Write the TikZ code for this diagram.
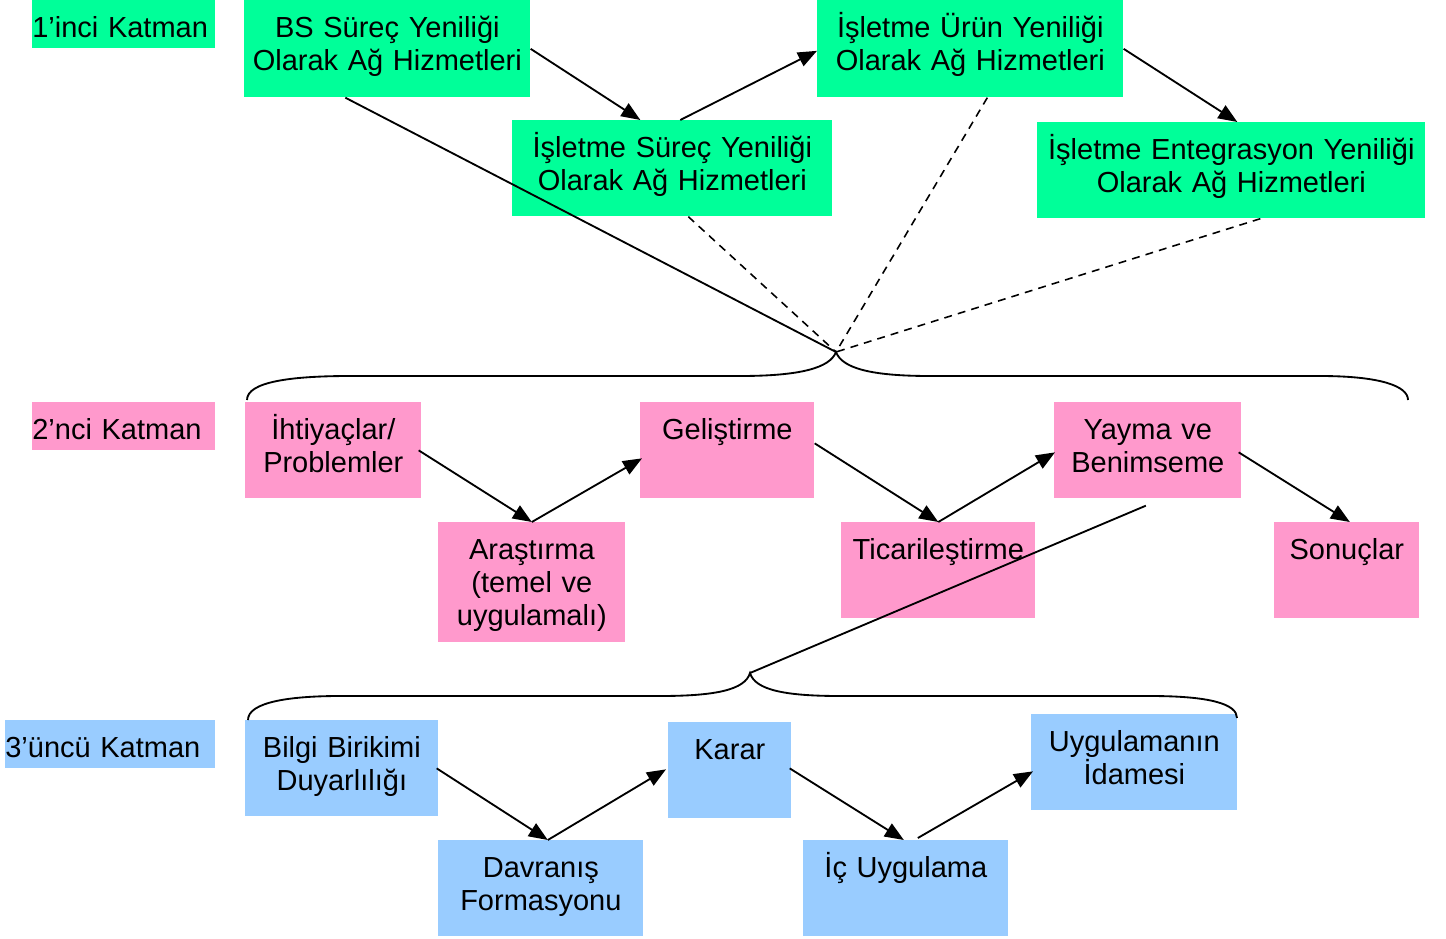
\documentclass[tikz,border=0pt]{standalone}
\usepackage{fontspec}
\setmainfont{Liberation Sans}
\usepackage{tikz}
\usetikzlibrary{arrows.meta,calc}
\definecolor{katgreen}{RGB}{0,255,153}
\definecolor{katpink}{RGB}{255,153,204}
\definecolor{katblue}{RGB}{153,204,255}
\tikzset{
  box/.style={
    anchor=north west, inner sep=0pt, align=center,
    text height=0.74cm, font=\fontsize{16.5pt}{18.7pt}\selectfont
  },
  gbox/.style={box, fill=katgreen},
  pbox/.style={box, fill=katpink},
  bbox/.style={box, fill=katblue},
  layer/.style={align=left, text depth=0.22cm},
  arr/.style={-{Triangle[length=3.8mm,width=3mm]}, line width=1.05pt},
  tipline/.style={line width=1.05pt},
  darr/.style={line width=0.9pt, dash pattern=on 4.5pt off 3.5pt},
  brc/.style={line width=1.05pt}
}

\begin{document}
\begin{tikzpicture}[x=0.02cm,y=-0.02cm]
  \useasboundingbox (0,0) rectangle (1446,939);

  % first layer
  \node[gbox, layer, text width=3.66cm] (k1) at (32,0) {1’inci Katman};
  \node[gbox, text width=5.72cm, text depth=1.2cm] (bs) at (244,0)
    {BS Süreç Yeniliği\\Olarak Ağ Hizmetleri};
  \node[gbox, text width=6.4cm, text depth=1.18cm] (surec) at (512,120)
    {İşletme Süreç Yeniliği\\Olarak Ağ Hizmetleri};
  \node[gbox, text width=6.12cm, text depth=1.2cm] (urun) at (817,0)
    {İşletme Ürün Yeniliği\\Olarak Ağ Hizmetleri};
  \node[gbox, text width=7.76cm, text depth=1.18cm] (enteg) at (1037,122)
    {İşletme Entegrasyon Yeniliği\\Olarak Ağ Hizmetleri};

  % second layer
  \node[pbox, layer, text width=3.66cm] (k2) at (32,402) {2’nci Katman};
  \node[pbox, text width=3.52cm, text depth=1.18cm] (ihti) at (245,402)
    {İhtiyaçlar/\\Problemler};
  \node[pbox, text width=3.74cm, text depth=1.66cm] (arast) at (438,522)
    {Araştırma\\(temel ve\\uygulamalı)};
  \node[pbox, text width=3.48cm, text depth=1.18cm] (gelis) at (640,402)
    {Geliştirme};
  \node[pbox, text width=3.88cm, text depth=1.18cm] (ticari) at (841,522)
    {Ticarileştirme};
  \node[pbox, text width=3.74cm, text depth=1.18cm] (yayma) at (1054,402)
    {Yayma ve\\Benimseme};
  \node[pbox, text width=2.9cm, text depth=1.18cm] (sonuc) at (1274,522)
    {Sonuçlar};

  % third layer
  \node[bbox, layer, text width=4.2cm] (k3) at (5,720) {3’üncü Katman};
  \node[bbox, text width=3.86cm, text depth=1.18cm] (bilgi) at (245,720)
    {Bilgi Birikimi\\Duyarlılığı};
  \node[bbox, text width=4.1cm, text depth=1.18cm] (davr) at (438,840)
    {Davranış\\Formasyonu};
  \node[bbox, text width=2.46cm, text depth=1.18cm] (karar) at (668,722)
    {Karar};
  \node[bbox, text width=4.1cm, text depth=1.18cm] (icuyg) at (803,840)
    {İç Uygulama};
  \node[bbox, text width=4.12cm, text depth=1.18cm] (idame) at (1031,714)
    {Uygulamanın\\İdamesi};

  % zigzag arrows
  \draw[arr] (bs.east) -- ($(surec.north)+(-32,0)$);
  \draw[arr] ($(surec.north)+(8,0)$) -- ($(urun.west)+(0,2)$);
  \draw[arr] (urun.east) -- ($(enteg.north)+(6,0)$);
  \draw[arr] ($(ihti.east)+(-3,0)$) -- (arast.north);
  \draw[arr] (arast.north) -- ($(gelis.west)+(2,8)$);
  \draw[arr] ($(gelis.east)+(0,-7)$) -- (ticari.north);
  \draw[arr] (ticari.north) -- ($(yayma.west)+(1,2)$);
  \draw[arr] ($(yayma.east)+(-3,2)$) -- ($(sonuc.north)+(3,0)$);
  \draw[arr] ($(bilgi.east)+(-2,0)$) -- ($(davr.north)+(7,0)$);
  \draw[arr] ($(davr.north)+(7,0)$) -- ($(karar.west)+(-2,-1)$);
  \draw[arr] ($(karar.east)+(-2,-2)$) -- ($(icuyg.north)+(-2,0)$);
  \draw[arr] ($(icuyg.north)+(12,-2)$) -- ($(idame.west)+(2,9)$);

  % braces
  \coordinate (tip1) at (836,352);
  \coordinate (tip2) at (750,673);
  \draw[brc] (247,400) .. controls (247,382) and (290,376) .. (350,376)
    -- (740,376) .. controls (800,376) and (830,368) .. (tip1)
    .. controls (842,368) and (870,376) .. (930,376)
    -- (1320,376) .. controls (1380,376) and (1408,386) .. (1408,400);
  \draw[brc] (248,720) .. controls (248,702) and (290,696) .. (340,696)
    -- (660,696) .. controls (715,696) and (745,690) .. (tip2)
    .. controls (755,690) and (785,696) .. (840,696)
    -- (1150,696) .. controls (1210,696) and (1237,704) .. (1237,718);

  % links to the braces
  \draw[tipline] ($(bs.south)+(-42,0)$) -- (tip1);
  \draw[darr] ($(surec.south)+(16,0)$) -- (tip1);
  \draw[darr] ($(urun.south)+(17,0)$) -- (tip1);
  \draw[darr] ($(enteg.south)+(29,0)$) -- (tip1);
  \draw[tipline] ($(yayma.south)+(-2,7)$) -- (tip2);
\end{tikzpicture}
\end{document}
